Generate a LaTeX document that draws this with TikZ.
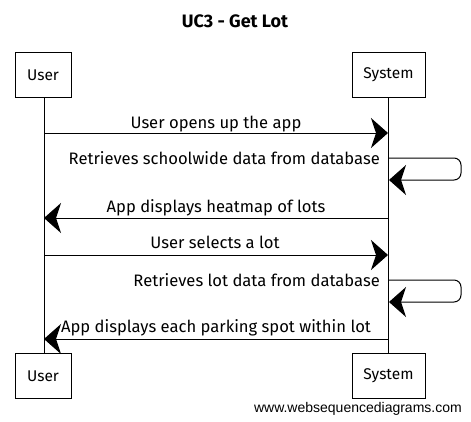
\documentclass[tikz,border=0pt]{standalone}
\usepackage{fontspec}
\setmainfont{Fira Sans}
\newfontfamily\footfont{Liberation Sans}
\usetikzlibrary{arrows.meta}
\begin{document}
\begin{tikzpicture}[x=1pt,y=-1pt,
  actor/.style={draw,line width=0.9pt,minimum width=#1,minimum height=45pt,inner sep=0pt,font=\fontsize{15.5}{15.5}\selectfont},
  life/.style={line width=0.7pt},
  msg/.style={line width=1pt,-{Stealth[length=17pt,width=30pt,inset=5pt]}},
  lbl/.style={anchor=base,inner sep=0pt,font=\fontsize{16.6}{16.6}\selectfont},
  selfmsg/.style={line width=1pt,rounded corners=7pt,-{Stealth[length=17pt,width=30pt,inset=5pt]}}]
\useasboundingbox (0,0) rectangle (471,421);
\node[anchor=base,inner sep=0pt,font=\fontsize{18}{18}\selectfont\bfseries] (title) at (235,27) {UC3 - Get Lot};
\node[actor=56pt] (ut) at (43,75) {User};
\node[actor=73pt] (st) at (388.5,75) {System};
\node[actor=56pt] (ub) at (43,376) {User};
\node[actor=73pt] (sb) at (388.5,376) {System};
\draw[life] (ut.south -| 44,0) coordinate (ul1) -- (ub.north -| 44,0) coordinate (ul2);
\draw[life] (st.south -| 388,0) coordinate (sl1) -- (sb.north -| 388,0) coordinate (sl2);
% messages
\coordinate (u1) at (44,133); \coordinate (s1) at (388,133);
\draw[msg] (u1) -- (s1);
\node[lbl] (l1) at (216,128) {User opens up the app};
\coordinate (s2a) at (388,158); \coordinate (s2b) at (461,158);
\coordinate (s2c) at (461,180); \coordinate (s2d) at (389,180);
\draw[selfmsg] (s2a) -- (s2b) -- (s2c) -- (s2d);
\node[lbl,anchor=base east] (l2) at (380,164) {Retrieves schoolwide data from database};
\coordinate (s3) at (388,218); \coordinate (u3) at (44,218);
\draw[msg] (s3) -- (u3);
\node[lbl] (l3) at (216,212) {App displays heatmap of lots};
\coordinate (u4) at (44,255); \coordinate (s4) at (388,255);
\draw[msg] (u4) -- (s4);
\node[lbl] (l4) at (215,248) {User selects a lot};
\coordinate (s5a) at (388,280); \coordinate (s5b) at (461,280);
\coordinate (s5c) at (461,302); \coordinate (s5d) at (389,302);
\draw[selfmsg] (s5a) -- (s5b) -- (s5c) -- (s5d);
\node[lbl,anchor=base east] (l5) at (380,286) {Retrieves lot data from database};
\coordinate (s6) at (388,339); \coordinate (u6) at (44,339);
\draw[msg] (s6) -- (u6);
\node[lbl] (l6) at (216,332) {App displays each parking spot within lot};
\node[anchor=base east,inner sep=0pt,font=\footfont\fontsize{14}{14}\selectfont] (foot) at (462,412) {www.websequencediagrams.com};
\end{tikzpicture}
\end{document}
